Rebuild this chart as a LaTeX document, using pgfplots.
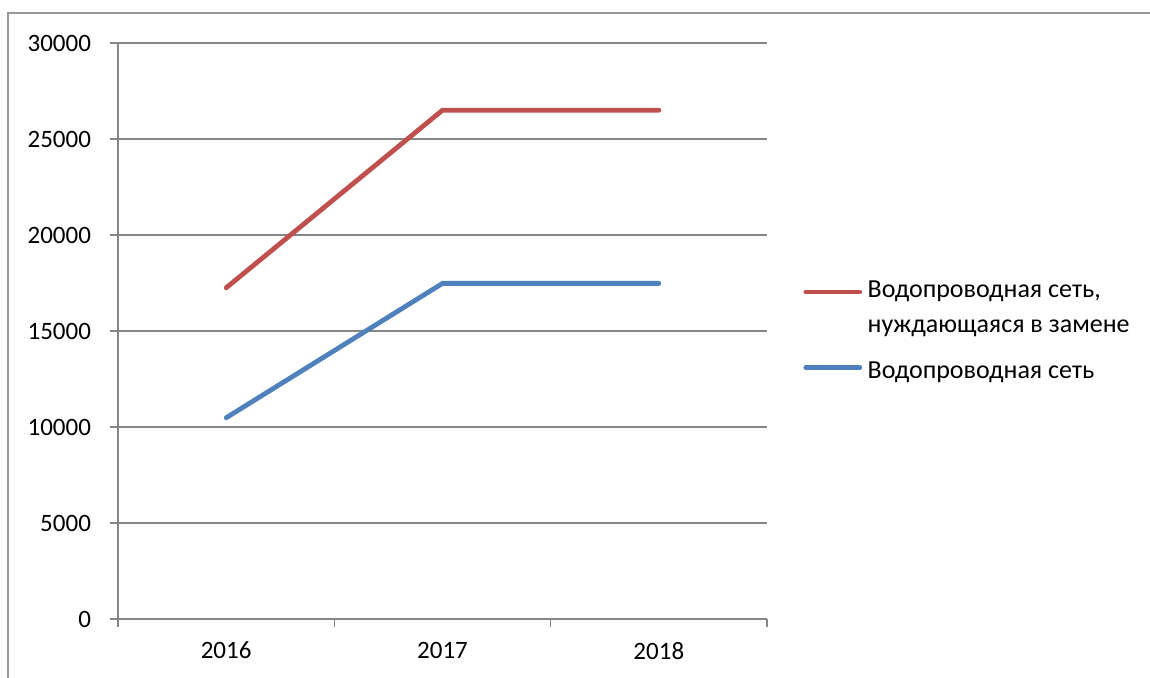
\documentclass[border=0pt]{standalone}
\usepackage{pgfplots}
\pgfplotsset{compat=1.18}
\usepackage{fontspec}
\setmainfont{Carlito}
\definecolor{xred}{HTML}{C0504D}
\definecolor{xblue}{HTML}{4F81BD}
\definecolor{xgrid}{HTML}{868686}
\begin{document}
\begin{tikzpicture}
\useasboundingbox (0pt,0pt) rectangle (575pt,-339pt);
\draw[color=xgrid!85, line width=0.75pt] (4pt,-339pt) -- (4pt,-6.5pt) -- (575pt,-6.5pt);
\begin{axis}[
  at={(59pt,-309.5pt)}, anchor=south west,
  scale only axis, width=324.5pt, height=288pt,
  xmin=0, xmax=3, ymin=0, ymax=30000,
  axis x line*=bottom, axis y line*=left,
  axis line style={-, draw=xgrid, line width=0.75pt},
  ymajorgrids, grid style={draw=xgrid, line width=0.75pt},
  xtick={0.5,1.5,2.5}, xticklabels={2016,2017,2018},
  minor xtick={0,1,2,3},
  ytick={0,5000,10000,15000,20000,25000,30000},
  scaled y ticks=false,
  /pgf/number format/set thousands separator={},
  /pgf/number format/assume math mode=true,
  tick align=outside,
  major tick length=4pt, minor tick length=4pt,
  x tick style={draw=none}, minor x tick style={draw=xgrid, line width=0.75pt},
  y tick style={draw=xgrid, line width=0.75pt},
  tick label style={font=\fontsize{12.5}{15}\selectfont, text=black},
  yticklabel style={anchor=east, xshift=-6pt},
  xticklabel style={anchor=north, yshift=-4pt},
  legend cell align=left,
  legend style={at={(1.0493,0.6059)}, anchor=north west, draw=none, fill=none,
    font=\fontsize{13}{15}\selectfont, row sep=0pt, inner sep=2pt,
    nodes={inner sep=2.75pt, text depth=3pt}},
  legend image code/.code={\draw[#1, line cap=round] (0pt,0pt) -- (27pt,0pt);},
]
\addplot[xred, line width=2.4pt, line cap=round] coordinates {(0.5,17250) (1.5,26500) (2.5,26500)};
\addlegendentry{\rule{0pt}{9pt}Водопроводная сеть,}
\addlegendimage{empty legend}
\addlegendentry{\rule{0pt}{9pt}нуждающаяся в замене}
\addplot[xblue, line width=2.4pt, line cap=round] coordinates {(0.5,10480) (1.5,17480) (2.5,17480)};
\addlegendentry{\rule{0pt}{14.5pt}Водопроводная сеть}
\end{axis}
\end{tikzpicture}
\end{document}
